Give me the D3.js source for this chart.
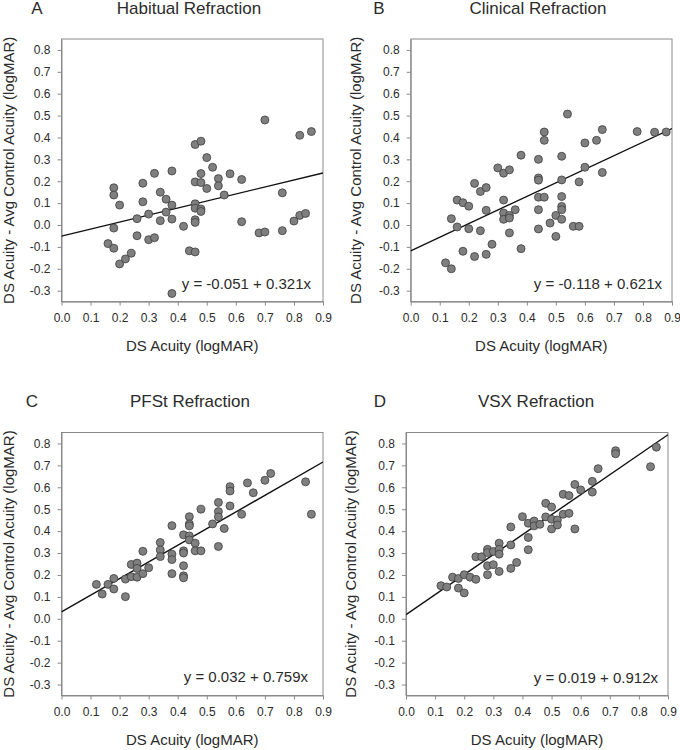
<!DOCTYPE html>
<html><head><meta charset="utf-8">
<script src="https://cdn.jsdelivr.net/npm/d3@7"></script>
<style>
body{margin:0;background:#fff;}
svg{display:block;font-family:"Liberation Sans",Arial,sans-serif;}
</style></head>
<body><svg id="chart" width="680" height="750"></svg>
<script>
// ---- data ----
const panelLetters = ["A","B","C","D"];
const panelTitles = ["Habitual Refraction","Clinical Refraction","PFSt Refraction","VSX Refraction"];
const intercepts = [-0.051,-0.118,0.032,0.019];
const slopes = [0.321,0.621,0.759,0.912];
const equationLabels = ["y = -0.051 + 0.321x","y = -0.118 + 0.621x","y = 0.032 + 0.759x","y = 0.019 + 0.912x"];
const xTicks = [0,0.1,0.2,0.3,0.4,0.5,0.6,0.7,0.8,0.9];
const yTicks = [-0.3,-0.2,-0.1,0,0.1,0.2,0.3,0.4,0.5,0.6,0.7,0.8];

const habitualPoints = [[0.16,-0.085],[0.18,0.17],[0.18,0.137],[0.18,-0.014],[0.18,-0.106],[0.20,0.091],[0.20,-0.178],[0.22,-0.155],[0.24,-0.129],[0.26,0.029],[0.26,-0.049],[0.28,0.191],[0.28,0.106],[0.30,0.05],[0.30,-0.067],[0.32,-0.058],[0.32,0.236],[0.34,0.15],[0.34,0.02],[0.36,0.118],[0.36,0.059],[0.38,0.247],[0.38,0.091],[0.38,0.027],[0.38,-0.313],[0.42,-0.006],[0.44,-0.118],[0.46,0.197],[0.46,0.097],[0.46,0.077],[0.46,0.024],[0.46,0.012],[0.46,-0.123],[0.46,0.368],[0.48,0.383],[0.48,0.235],[0.48,0.194],[0.48,0.073],[0.48,0.062],[0.50,0.308],[0.50,0.167],[0.52,0.264],[0.54,0.212],[0.54,0.179],[0.56,0.137],[0.58,0.234],[0.62,0.208],[0.62,0.015],[0.68,-0.036],[0.70,-0.032],[0.70,0.48],[0.76,0.147],[0.76,-0.026],[0.80,0.018],[0.82,0.044],[0.82,0.41],[0.84,0.053],[0.86,0.427]];
const clinicalPoints = [[0.12,-0.173],[0.14,0.029],[0.14,-0.2],[0.16,0.114],[0.16,-0.009],[0.18,0.102],[0.18,-0.12],[0.20,0.086],[0.20,-0.017],[0.22,0.19],[0.22,-0.144],[0.24,0.153],[0.24,-0.026],[0.26,0.171],[0.26,0.067],[0.26,-0.134],[0.28,-0.088],[0.30,0.261],[0.32,0.237],[0.32,0.114],[0.32,0.055],[0.32,0.026],[0.34,0.252],[0.34,0.044],[0.34,0.032],[0.34,-0.036],[0.36,0.07],[0.38,0.319],[0.38,-0.108],[0.44,0.30],[0.44,0.215],[0.44,0.205],[0.44,0.127],[0.44,0.07],[0.44,-0.018],[0.46,0.425],[0.46,0.387],[0.46,0.127],[0.48,0.009],[0.50,0.044],[0.50,-0.052],[0.52,0.314],[0.52,0.206],[0.52,0.13],[0.52,0.085],[0.52,0.07],[0.52,0.026],[0.54,0.507],[0.56,-0.006],[0.58,0.197],[0.58,-0.006],[0.60,0.375],[0.60,0.264],[0.64,0.387],[0.66,0.436],[0.66,0.24],[0.78,0.427],[0.84,0.424],[0.88,0.425]];
const pfstPoints = [[0.12,0.157],[0.14,0.113],[0.16,0.157],[0.18,0.184],[0.18,0.136],[0.22,0.181],[0.22,0.101],[0.24,0.248],[0.24,0.192],[0.26,0.254],[0.26,0.23],[0.26,0.19],[0.28,0.308],[0.28,0.206],[0.30,0.233],[0.34,0.348],[0.34,0.314],[0.34,0.284],[0.38,0.425],[0.38,0.295],[0.38,0.27],[0.38,0.206],[0.42,0.383],[0.42,0.31],[0.42,0.30],[0.42,0.242],[0.42,0.196],[0.42,0.187],[0.44,0.466],[0.44,0.433],[0.44,0.424],[0.44,0.378],[0.44,0.36],[0.46,0.345],[0.46,0.31],[0.48,0.5],[0.48,0.31],[0.52,0.433],[0.54,0.531],[0.54,0.489],[0.54,0.465],[0.54,0.33],[0.56,0.412],[0.58,0.603],[0.58,0.583],[0.58,0.515],[0.62,0.477],[0.64,0.62],[0.66,0.575],[0.70,0.632],[0.72,0.663],[0.84,0.625],[0.86,0.477]];
const vsxPoints = [[0.12,0.151],[0.14,0.145],[0.16,0.19],[0.18,0.14],[0.18,0.184],[0.20,0.201],[0.20,0.118],[0.22,0.19],[0.24,0.18],[0.24,0.283],[0.26,0.283],[0.28,0.317],[0.28,0.302],[0.28,0.242],[0.28,0.201],[0.30,0.247],[0.30,0.307],[0.32,0.345],[0.32,0.317],[0.32,0.295],[0.32,0.216],[0.36,0.23],[0.36,0.337],[0.36,0.419],[0.38,0.257],[0.40,0.466],[0.42,0.371],[0.42,0.436],[0.42,0.315],[0.44,0.446],[0.44,0.424],[0.46,0.431],[0.48,0.527],[0.48,0.465],[0.50,0.51],[0.50,0.454],[0.50,0.41],[0.52,0.451],[0.52,0.428],[0.54,0.568],[0.54,0.477],[0.56,0.562],[0.56,0.481],[0.58,0.613],[0.58,0.41],[0.60,0.588],[0.64,0.627],[0.64,0.578],[0.66,0.685],[0.72,0.767],[0.72,0.753],[0.84,0.694],[0.86,0.783]];
const panelPoints = [habitualPoints, clinicalPoints, pfstPoints, vsxPoints];

// ---- layout ----
const layout = [
  {left:61.5, right:323, top:39, bottom:301.6, letterX:37, titleX:189, titleY:13.5, yLabX:14, xLabY:351, eqRight:12, eqUp:13},
  {left:410.7, right:672, top:39, bottom:301.6, letterX:379, titleX:538, titleY:13.5, yLabX:361, xLabY:351, eqRight:10, eqUp:13},
  {left:61.5, right:323, top:432.5, bottom:695.5, letterX:32, titleX:190, titleY:407, yLabX:14, xLabY:745, eqRight:15, eqUp:14},
  {left:406, right:668, top:432.5, bottom:695.5, letterX:380, titleX:536, titleY:407, yLabX:356, xLabY:745, eqRight:10, eqUp:13}
];

const svg = d3.select("#chart");
const frameColor = "#8a8a8a";
const textColor = "#2b2b2b";

layout.forEach((L, i) => {
  const x = d3.scaleLinear().domain([0, 0.9]).range([L.left, L.right]);
  const y = d3.scaleLinear().domain([-0.35, 0.85]).range([L.bottom, L.top]);
  const g = svg.append("g");

  // frame
  g.append("rect").attr("x", L.left).attr("y", L.top)
    .attr("width", L.right - L.left).attr("height", L.bottom - L.top)
    .attr("fill", "none").attr("stroke", frameColor).attr("stroke-width", 1);

  // axes
  const xa = g.append("g").attr("transform", `translate(0,${L.bottom})`)
    .call(d3.axisBottom(x).tickValues(xTicks).tickFormat(d3.format(".1f")).tickSizeInner(4).tickSizeOuter(0).tickPadding(8));
  const ya = g.append("g").attr("transform", `translate(${L.left},0)`)
    .call(d3.axisLeft(y).tickValues(yTicks).tickFormat(d3.format(".1f")).tickSizeInner(4).tickSizeOuter(0).tickPadding(7));
  [xa, ya].forEach(a => {
    a.select(".domain").attr("stroke", frameColor);
    a.selectAll(".tick line").attr("stroke", frameColor);
    a.selectAll(".tick text").attr("fill", textColor).style("font-size", "12px")
      .style("font-family", '"Liberation Sans",Arial,sans-serif');
  });
  ya.selectAll(".tick text").text(d => d3.format(".1f")(d).replace("−", "-"));

  // regression line
  const clipId = "clip" + i;
  svg.append("clipPath").attr("id", clipId).append("rect")
    .attr("x", L.left).attr("y", L.top).attr("width", L.right - L.left).attr("height", L.bottom - L.top);
  g.append("line").attr("clip-path", `url(#${clipId})`)
    .attr("x1", x(0)).attr("y1", y(intercepts[i]))
    .attr("x2", x(0.9)).attr("y2", y(intercepts[i] + slopes[i] * 0.9))
    .attr("stroke", "#111").attr("stroke-width", 1.4);

  // points
  g.selectAll("circle.pt").data(panelPoints[i]).enter().append("circle")
    .attr("class", "pt")
    .attr("cx", d => x(d[0])).attr("cy", d => y(d[1])).attr("r", 4)
    .attr("fill", "#7f7f7f").attr("stroke", "#3d3d3d").attr("stroke-width", 0.8);

  // equation
  g.append("text").attr("x", L.right - L.eqRight).attr("y", L.bottom - L.eqUp)
    .attr("text-anchor", "end").style("font-size", "15px").attr("fill", textColor)
    .text(equationLabels[i]);

  // titles
  g.append("text").attr("x", L.letterX).attr("y", L.titleY).attr("text-anchor", "middle")
    .style("font-size", "17px").attr("fill", textColor).text(panelLetters[i]);
  g.append("text").attr("x", L.titleX).attr("y", L.titleY).attr("text-anchor", "middle")
    .style("font-size", "17px").attr("fill", textColor).text(panelTitles[i]);

  // axis labels
  g.append("text").attr("x", (L.left + L.right) / 2).attr("y", L.xLabY).attr("text-anchor", "middle")
    .style("font-size", "15px").attr("fill", textColor).text("DS Acuity (logMAR)");
  g.append("text").attr("transform", `translate(${L.yLabX},${(L.top + L.bottom) / 2}) rotate(-90)`)
    .attr("text-anchor", "middle").style("font-size", "15px").attr("fill", textColor)
    .text("DS Acuity - Avg Control Acuity (logMAR)");
});
</script></body></html>
